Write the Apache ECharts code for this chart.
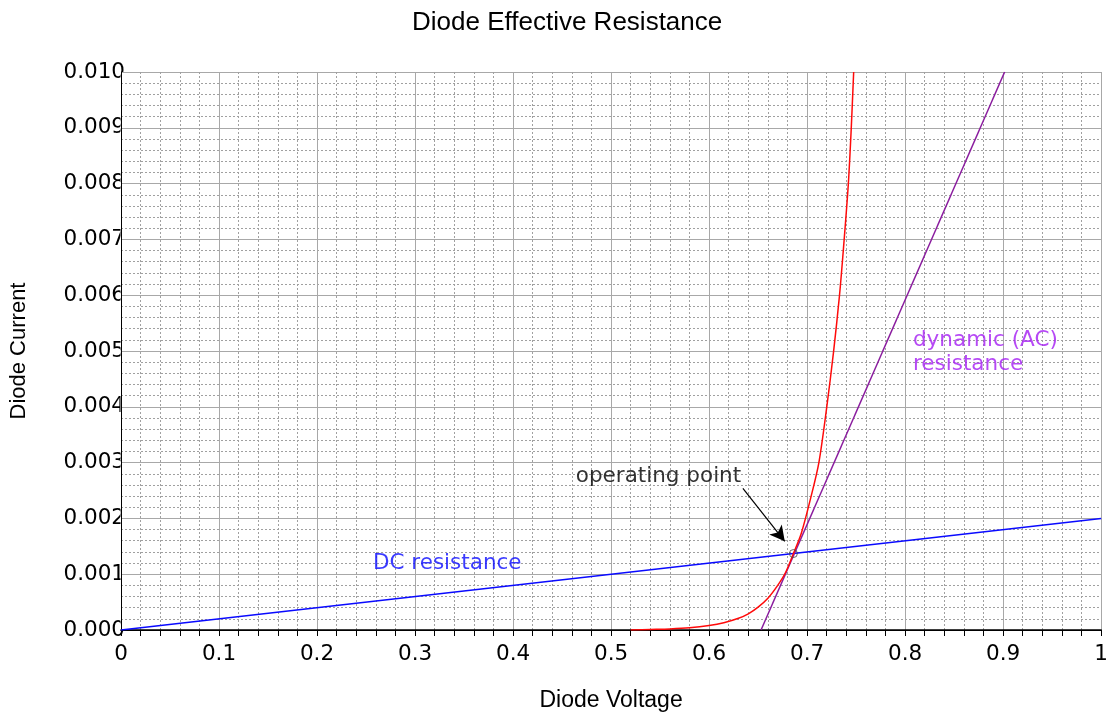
<!DOCTYPE html>
<html>
<head>
<meta charset="utf-8">
<script src="https://cdn.jsdelivr.net/npm/echarts@6/dist/echarts.min.js"></script>
<style>
html,body{margin:0;padding:0;background:#fff;}
#chart{width:1111px;height:717px;}
</style>
</head>
<body>
<div id="chart"></div>
<script>
// ---- data ----
const xTicks = [0, 0.1, 0.2, 0.3, 0.4, 0.5, 0.6, 0.7, 0.8, 0.9, 1];
const yTicks = [0, 0.001, 0.002, 0.003, 0.004, 0.005, 0.006, 0.007, 0.008, 0.009, 0.010];

// diode I-V curve (voltage, current)
const diodeV = [0.520, 0.540, 0.560, 0.580, 0.600, 0.615, 0.630, 0.640, 0.650, 0.660, 0.670, 0.678, 0.686, 0.694, 0.704, 0.712, 0.720, 0.727, 0.733, 0.737, 0.742, 0.745, 0.7475];
const diodeI = [0.00000, 0.00001, 0.00002, 0.00004, 0.00008, 0.00013, 0.00021, 0.00029, 0.00041, 0.00057, 0.00080, 0.00103, 0.00137, 0.00173, 0.00239, 0.00300, 0.00399, 0.00499, 0.00599, 0.00682, 0.00798, 0.00898, 0.01000];

// DC resistance line
const dcV = [0, 1];
const dcI = [0, 0.002];

// dynamic (AC) resistance tangent line
const acV = [0.653, 0.9015];
const acI = [0, 0.010];

// operating point
const opV = 0.686;
const opI = 0.00137;

// arrow (from text to operating point)
const arrowFrom = [0.6345, 0.00254];
const arrowTo = [0.6772, 0.00159];

// annotation texts
const notes = [
  {name: 'DC resistance', v: 0.257, i: 0.00119, color: '#0a0aff'},
  {name: 'operating point', v: 0.464, i: 0.00276, color: '#000000'},
  {name: 'dynamic (AC)\nresistance', v: 0.808, i: 0.00497, color: '#a41cf2'}
];

const zip = (a, b) => a.map((x, k) => [x, b[k]]);

const GRID = {left: 120, right: 6, top: 72, bottom: 85};
const chart = echarts.init(document.getElementById('chart'));
const tickFont = 'DejaVu Sans';

chart.setOption({
  backgroundColor: '#ffffff',
  animation: false,
  title: {
    text: 'Diode Effective Resistance',
    left: 407,
    top: 5,
    textStyle: {fontFamily: 'Liberation Sans', fontSize: 26, fontWeight: 'normal', color: '#000'}
  },
  grid: {left: GRID.left, right: GRID.right, top: GRID.top, bottom: GRID.bottom, containLabel: false},
  graphic: [{
    type: 'rect', z: 1, silent: true,
    shape: {x: GRID.left + 0.5, y: GRID.top, width: 1111 - GRID.left - GRID.right, height: 717 - GRID.top - GRID.bottom - 1},
    style: {fill: '#ffffff'}
  }],
  xAxis: [{
    type: 'value', position: 'bottom', z: 3,
    min: xTicks[0], max: xTicks[xTicks.length - 1], interval: 0.1,
    name: 'Diode Voltage', nameLocation: 'middle', nameGap: 59,
    nameTextStyle: {fontFamily: 'Liberation Sans', fontSize: 23, color: '#000'},
    axisLine: {show: true, lineStyle: {color: '#000', width: 1}},
    axisTick: {show: true, inside: false, length: 6, lineStyle: {color: '#000'}},
    minorTick: {show: true, splitNumber: 5, length: 6, lineStyle: {color: '#000'}},
    axisLabel: {fontFamily: tickFont, fontSize: 21.5, color: '#000', margin: 13},
    splitLine: {show: true, lineStyle: {color: '#a8a8a8', width: 1}},
    minorSplitLine: {show: true, lineStyle: {color: '#a0a0a0', width: 1, type: [2, 2]}}
  }, {
    type: 'value', position: 'top', z: 3,
    min: xTicks[0], max: xTicks[xTicks.length - 1],
    axisLine: {show: true, lineStyle: {color: '#000', width: 1.5}},
    axisTick: {show: false}, axisLabel: {show: false}, splitLine: {show: false}
  }],
  yAxis: [{
    type: 'value', position: 'left', z: 0,
    min: yTicks[0], max: yTicks[yTicks.length - 1], interval: 0.001,
    name: 'Diode Current', nameLocation: 'middle', nameGap: 91, nameRotate: 90,
    nameTextStyle: {fontFamily: 'Liberation Sans', fontSize: 22, color: '#000'},
    axisLine: {show: false}, axisTick: {show: false},
    axisLabel: {fontFamily: tickFont, fontSize: 21.5, color: '#000', margin: -4,
      formatter: v => v.toFixed(3)},
    splitLine: {show: false}
  }, {
    type: 'value', position: 'left', z: 3,
    min: yTicks[0], max: yTicks[yTicks.length - 1], interval: 0.001,
    axisLine: {show: true, lineStyle: {color: '#000', width: 1}},
    axisTick: {show: false}, axisLabel: {show: false},
    minorTick: {show: false, splitNumber: 5},
    splitLine: {show: true, lineStyle: {color: '#a8a8a8', width: 1}},
    minorSplitLine: {show: true, lineStyle: {color: '#a0a0a0', width: 1, type: [2, 2]}}
  }],
  series: [{
    name: 'DC resistance', type: 'line', z: 5, showSymbol: false, symbol: 'none',
    data: zip(dcV, dcI), lineStyle: {color: '#0a0aff', width: 1.5}
  }, {
    name: 'AC resistance', type: 'line', z: 5, showSymbol: false, symbol: 'none',
    data: zip(acV, acI), lineStyle: {color: '#8a1c9e', width: 1.5}
  }, {
    name: 'diode', type: 'line', z: 6, showSymbol: false, symbol: 'none', smooth: 0.3,
    data: zip(diodeV, diodeI), lineStyle: {color: '#ff0a0a', width: 1.5},
    markLine: {
      silent: true, symbol: ['none', 'arrow'], symbolSize: [12, 15],
      label: {show: false},
      lineStyle: {color: '#000', width: 1.2, type: 'solid'},
      data: [[{coord: arrowFrom}, {coord: arrowTo}]]
    }
  }, {
    name: 'op', type: 'scatter', z: 7, symbol: 'circle', symbolSize: 8,
    data: [[opV, opI]],
    itemStyle: {color: 'rgba(0,0,0,0)', borderColor: '#444', borderWidth: 1}
  }, {
    name: 'notes', type: 'scatter', z: 8, symbolSize: 0, silent: true,
    data: notes.map(n => ({name: n.name, value: [n.v, n.i],
      label: {show: true, position: 'right', distance: 0, formatter: '{b}',
        color: n.color, fontFamily: 'DejaVu Sans', fontSize: 21.5, lineHeight: 24, align: 'left'}}))
  }]
});
</script>
</body>
</html>
